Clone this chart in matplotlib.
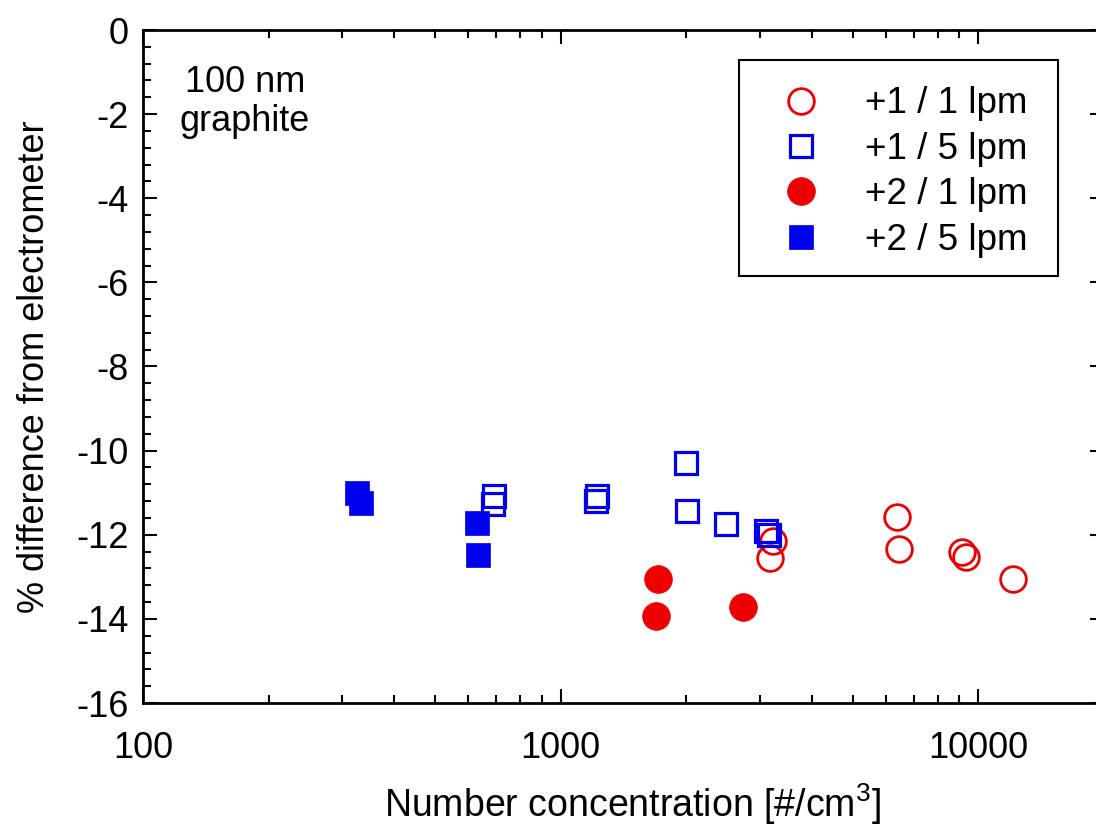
import matplotlib
matplotlib.use("Agg")
import matplotlib.pyplot as plt
from matplotlib.patches import Rectangle
from matplotlib.ticker import FixedLocator, LogLocator, NullFormatter, FixedFormatter

plt.rcParams['font.family'] = ['Liberation Sans', 'DejaVu Sans']
plt.rcParams['mathtext.fontset'] = 'custom'
plt.rcParams['mathtext.rm'] = 'Liberation Sans'
plt.rcParams['mathtext.it'] = 'Liberation Sans'

# ---- data ----
open_red_x = [3224, 3176, 6387, 6446, 9141, 9362, 12083]
open_red_y = [-12.15, -12.55, -11.57, -12.35, -12.40, -12.52, -13.05]

open_blue_x = [694, 687, 1221, 1217, 1998, 2012, 2491, 3110, 3150]
open_blue_y = [-11.07, -11.26, -11.07, -11.19, -10.29, -11.43, -11.75, -11.90, -12.00]

fill_red_x = [1709, 1694, 2726]
fill_red_y = [-13.06, -13.92, -13.71]

fill_blue_x = [326, 332, 630, 633]
fill_blue_y = [-11.01, -11.25, -11.73, -12.49]

labels = ['+1 / 1 lpm', '+1 / 5 lpm', '+2 / 1 lpm', '+2 / 5 lpm']
yticks = [0, -2, -4, -6, -8, -10, -12, -14, -16]
xticks = [100, 1000, 10000]

RED = '#ee0000'
BLUE = '#0000ee'

fig = plt.figure(figsize=(10.96, 8.30), dpi=100)
ax = fig.add_axes([143/1096, 1-703/830, (1104-143)/1096, (703-30)/830])

ax.plot(open_red_x, open_red_y, 'o', ms=18.5, mfc='none', mec=RED, mew=2.0, label=labels[0], clip_on=False)
ax.plot(open_blue_x, open_blue_y, 's', ms=16, mfc='none', mec=BLUE, mew=2.3, label=labels[1], clip_on=False)
ax.plot(fill_red_x, fill_red_y, 'o', ms=20, mfc=RED, mec=RED, mew=0.5, label=labels[2], clip_on=False)
ax.plot(fill_blue_x, fill_blue_y, 's', ms=17, mfc=BLUE, mec=BLUE, mew=0.5, label=labels[3], clip_on=False)

ax.set_xscale('log')
ax.set_xlim(100, 20000)
ax.set_ylim(-16, 0)

ax.xaxis.set_major_locator(FixedLocator(xticks))
ax.xaxis.set_major_formatter(FixedFormatter([str(v) for v in xticks]))
ax.xaxis.set_minor_locator(LogLocator(base=10, subs=range(2, 10)))
ax.xaxis.set_minor_formatter(NullFormatter())
ax.set_yticks(yticks)
ax.set_yticklabels([str(v) for v in yticks])
ax.yaxis.set_minor_locator(FixedLocator([-16 + 0.4 * i for i in range(41)]))

ax.tick_params(which='both', direction='in', top=True, right=True, width=1.5, labelsize=26)
ax.tick_params(which='major', length=10)
ax.tick_params(axis='x', which='major', pad=20)
ax.tick_params(axis='y', which='major', pad=10)
ax.tick_params(which='minor', length=6)
for s in ax.spines.values():
    s.set_linewidth(2.0)

xl = ax.set_xlabel(r'Number concentration [#/cm$^3$]', fontsize=27)
ax.xaxis.set_label_coords((632 - 143) / 961, (703 - 804) / 673)
xl.set_va('center')
ax.set_ylabel('% difference from electrometer', fontsize=26, labelpad=18)

ax.text(0.106, 0.893, '100 nm\ngraphite', fontsize=26, ha='center', va='center',
        transform=ax.transAxes, linespacing=1.12)

# legend frame drawn as a box, legend entries without own frame
ax.add_patch(Rectangle((0.620, 0.6345), 0.952 - 0.620, 0.9554 - 0.6345,
                       transform=ax.transAxes, facecolor='white', edgecolor='black',
                       linewidth=1.5, zorder=4))
leg = ax.legend(loc='upper left', bbox_to_anchor=((771.6 - 143) / 961, (703 - 86.4) / 673),
                fontsize=26.5, frameon=False, labelspacing=0.285, handletextpad=0.94,
                borderpad=0, handlelength=1.6, borderaxespad=0)
leg.set_zorder(5)

fig.savefig('out.png', dpi=100)
